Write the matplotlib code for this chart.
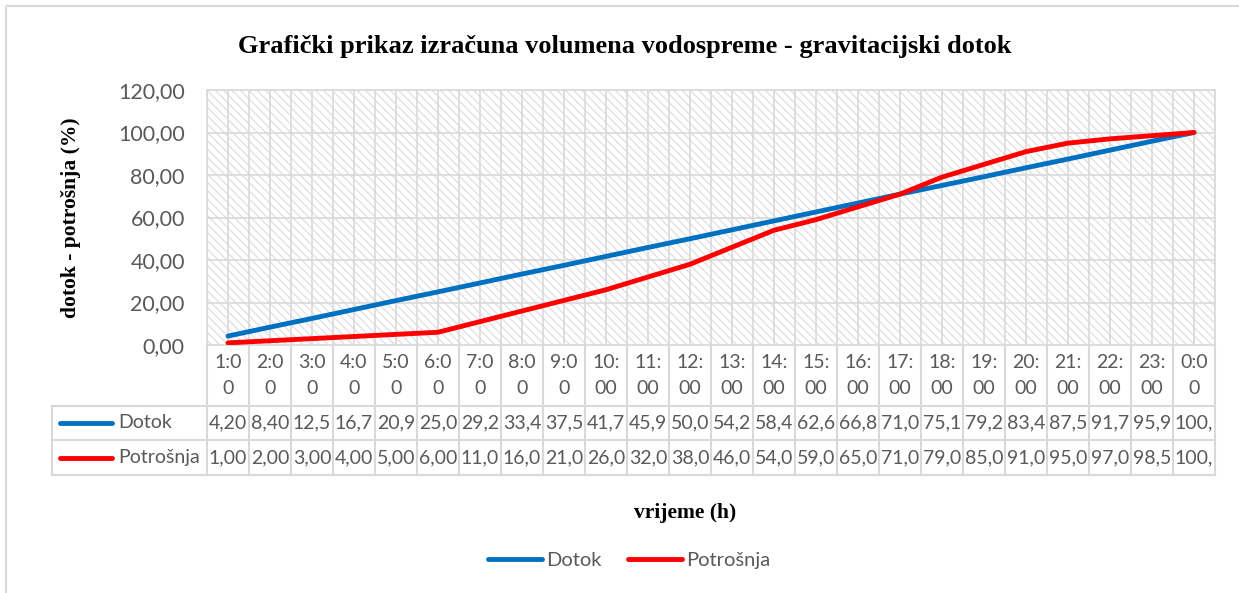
import matplotlib.pyplot as plt
from matplotlib.patches import Rectangle
from matplotlib.lines import Line2D
from matplotlib.transforms import blended_transform_factory

# satni podaci (%)
sati = [f"{h % 24}:00" for h in range(1, 25)]
dotok = [4.20, 8.40, 12.5, 16.7, 20.9, 25.0, 29.2, 33.4, 37.5, 41.7, 45.9, 50.0,
         54.2, 58.4, 62.6, 66.8, 71.0, 75.1, 79.2, 83.4, 87.5, 91.7, 95.9, 100.0]
potrosnja = [1.00, 2.00, 3.00, 4.00, 5.00, 6.00, 11.0, 16.0, 21.0, 26.0, 32.0, 38.0,
             46.0, 54.0, 59.0, 65.0, 71.0, 79.0, 85.0, 91.0, 95.0, 97.0, 98.5, 100.0]
serije = [("Dotok", dotok, "#0070C0"), ("Potrošnja", potrosnja, "#FF0000")]

W, H = 1239, 593
siva = "#595959"
linija = "#d9d9d9"
plt.rcParams["font.family"] = ["Lato", "DejaVu Sans"]
plt.rcParams["hatch.linewidth"] = 0.9

fig = plt.figure(figsize=(W / 100, H / 100), dpi=100)

# pomocna os u pikselima za okvir i tablicu
px = fig.add_axes([0, 0, 1, 1])
px.set_xlim(0, W)
px.set_ylim(H, 0)
px.axis("off")
px.add_patch(Rectangle((6, 6), W, H, fill=False, ec=linija, lw=1.5))

x0, x1, y0, y1 = 207, 1215, 90, 345
ax = fig.add_axes([x0 / W, 1 - y1 / H, (x1 - x0) / W, (y1 - y0) / H])
n = len(sati)
ax.set_xlim(-0.5, n - 0.5)
ax.set_ylim(0, 120)
ax.add_patch(Rectangle((0, 0), 1, 1, transform=ax.transAxes, facecolor="white",
                       edgecolor="#dedede", hatch="\\\\\\\\", lw=0, zorder=0))
ax.set_yticks(range(0, 121, 20))
ax.set_yticklabels([f"{v:.2f}".replace(".", ",") for v in range(0, 121, 20)],
                   color=siva, fontsize=15.5)
ax.set_xticks([i - 0.5 for i in range(n + 1)])
ax.set_xticks(range(n), minor=True)
ax.tick_params(axis="x", which="both", length=0, labelbottom=False)
ax.tick_params(axis="y", length=0, pad=16)
ax.grid(True, which="both", color=linija, lw=1.2)
ax.set_axisbelow(True)
for s in ax.spines.values():
    s.set_color(linija)
    s.set_linewidth(1.2)

for ime, vals, boja in serije:
    ax.plot(range(n), vals, color=boja, lw=3.5, solid_capstyle="round", label=ime, zorder=3)

fig.text(625 / W, 1 - 46 / H, "Grafički prikaz izračuna volumena vodospreme - gravitacijski dotok",
         ha="center", va="center", fontsize=19, fontweight="bold", family="Liberation Serif")
fig.text(71 / W, 1 - 218 / H, "dotok - potrošnja (%)", rotation=90, ha="center", va="center",
         fontsize=15.5, fontweight="bold", family="Liberation Serif")
fig.text(685 / W, 1 - 513 / H, "vrijeme (h)", ha="center", va="center",
         fontsize=15.5, fontweight="bold", family="Liberation Serif")

# tablica podataka ispod grafa
tr = blended_transform_factory(ax.transData, px.transData)
r_kat, r1, r2, r3 = 345, 406, 440, 475
for i in range(n + 1):
    px.plot([i - 0.5, i - 0.5], [r_kat, r3], color=linija, lw=1.5, transform=tr, clip_on=False)
for y in (r1, r2, r3):
    px.plot([52, x1], [y, y], color=linija, lw=1.5)
px.plot([52, 52], [r1, r3], color=linija, lw=1.5)

for i, lab in enumerate(sati):
    px.text(i, 363, lab[:3], ha="center", va="center", color=siva, fontsize=14, transform=tr)
    px.text(i, 388, lab[3:], ha="center", va="center", color=siva, fontsize=14, transform=tr)
for (ime, vals, boja), (ya, yb) in zip(serije, [(r1, r2), (r2, r3)]):
    ym = (ya + yb) / 2
    px.plot([60, 112], [ym, ym], color=boja, lw=3.5, solid_capstyle="round")
    px.text(118, ym, ime, ha="left", va="center", color=siva, fontsize=14)
    for i, v in enumerate(vals):
        px.text(i, ym, f"{v:.2f}".replace(".", ",")[:4], ha="center", va="center",
                color=siva, fontsize=14, transform=tr)

# legenda
handles = [Line2D([], [], color=b, lw=3.5, solid_capstyle="round") for _, _, b in serije]
fig.legend(handles, [s[0] for s in serije], loc="center", bbox_to_anchor=(629 / W, 1 - 560 / H),
           ncol=2, frameon=False, fontsize=14.5, labelcolor=siva, handlelength=2.7,
           handletextpad=0.2, columnspacing=1.3)

fig.savefig("out.png", dpi=100)
